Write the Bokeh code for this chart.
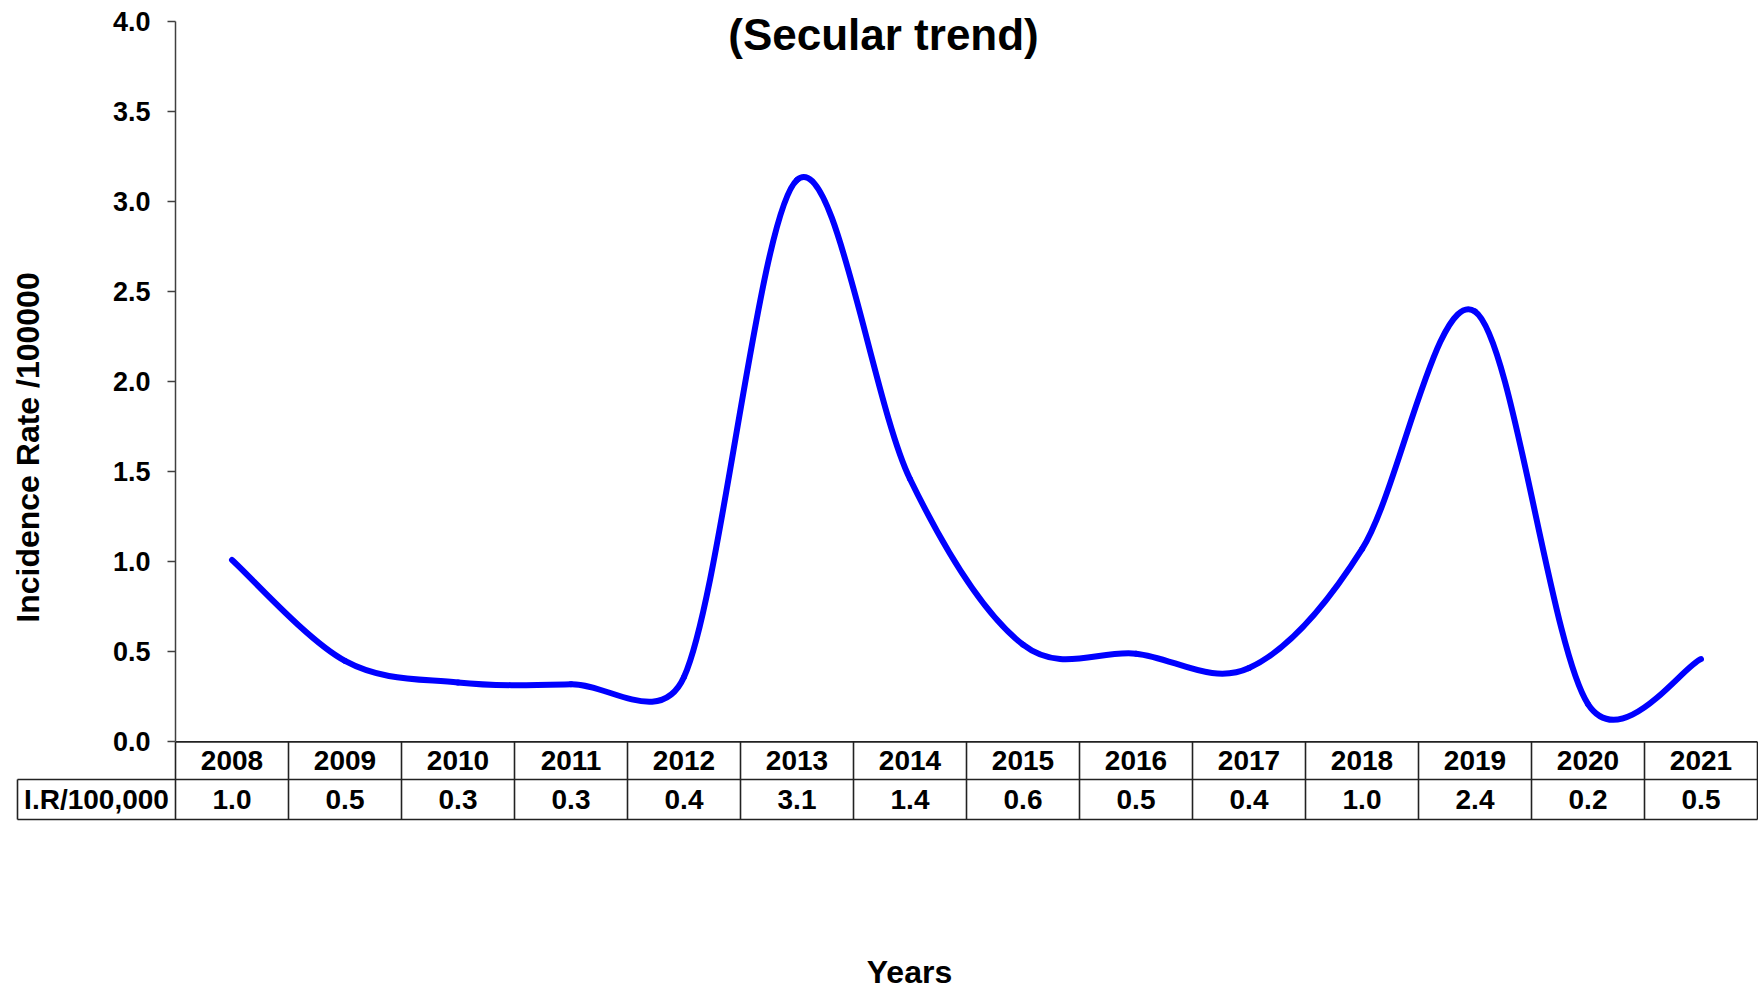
import numpy as np
from bokeh.plotting import figure
from bokeh.models import Range1d, FixedTicker, PrintfTickFormatter, ColumnDataSource
from bokeh.core.properties import value
from bokeh.embed import file_html
from bokeh.resources import INLINE

# ---- data ----
years = [2008, 2009, 2010, 2011, 2012, 2013, 2014, 2015, 2016, 2017, 2018, 2019, 2020, 2021]
rates = [1.01, 0.45, 0.33, 0.32, 0.36, 3.12, 1.46, 0.54, 0.49, 0.41, 1.07, 2.39, 0.21, 0.46]
table_values = ["1.0", "0.5", "0.3", "0.3", "0.4", "3.1", "1.4", "0.6", "0.5", "0.4", "1.0", "2.4", "0.2", "0.5"]
y_ticks = [0.0, 0.5, 1.0, 1.5, 2.0, 2.5, 3.0, 3.5, 4.0]
title_text = "(Secular trend)"
y_title = "Incidence Rate /100000"
x_title = "Years"
row_label = "I.R/100,000"

FONT = "Liberation Sans"
W, H = 1758, 992
n = len(years)
# pixel geometry (canvas pixels)
AX_X = 175.0          # y-axis position
TBL_R = 1757.0        # right edge of table
Y0_PIX = 741.4        # pixel row of value 0
px_x = (TBL_R - AX_X) / n
px_y = 180.1
x_start = -AX_X / px_x
x_end = x_start + W / px_x
y_end = Y0_PIX / px_y
y_start = y_end - H / px_y


def dx(pix):  # canvas x pixel -> data x
    return (pix - AX_X) / px_x


def dy(pix):  # canvas y pixel -> data y
    return (Y0_PIX - pix) / px_y


p = figure(width=W, height=H, x_range=Range1d(x_start, x_end), y_range=Range1d(y_start, y_end),
           output_backend="svg", toolbar_location=None, x_axis_location=None,
           min_border_left=0, min_border_right=0, min_border_top=0, min_border_bottom=0)
p.outline_line_color = None
p.grid.visible = False
p.background_fill_color = "white"
p.border_fill_color = "white"

ax = p.yaxis[0]
ax.fixed_location = 0
ax.ticker = FixedTicker(ticks=y_ticks)
ax.formatter = PrintfTickFormatter(format="%.1f")
ax.bounds = (0, y_ticks[-1])
ax.major_tick_out = 8
ax.major_tick_in = 0
ax.minor_tick_out = 0
ax.minor_tick_in = 0
ax.axis_line_color = "#404040"
ax.axis_line_width = 1.5
ax.major_tick_line_color = "#404040"
ax.major_tick_line_width = 1.5
ax.major_label_standoff = 17
ax.major_label_text_font = FONT
ax.major_label_text_font_size = "27px"
ax.major_label_text_font_style = "bold"
ax.major_label_text_color = "black"

# ---- smoothed line (Excel-like bezier between data points) ----
xs = np.arange(n) + 0.5
P = np.column_stack([xs * px_x, np.array(rates) * px_y])
seg = {k: [] for k in ["x0", "y0", "x1", "y1", "cx0", "cy0", "cx1", "cy1"]}
for i in range(n - 1):
    p0 = P[i - 1] if i > 0 else P[i]
    p1 = P[i]
    p2 = P[i + 1]
    p3 = P[i + 2] if i + 2 < n else P[i + 1]
    d12 = np.linalg.norm(p2 - p1)
    d02 = np.linalg.norm(p2 - p0)
    d13 = np.linalg.norm(p3 - p1)
    f0 = 1 / 6 if d02 / 6 < d12 / 2 else d12 / (2 * d02)
    f3 = 1 / 6 if d13 / 6 < d12 / 2 else d12 / (2 * d13)
    c1 = p1 + (p2 - p0) * f0
    c2 = p2 - (p3 - p1) * f3
    seg["x0"].append(p1[0] / px_x); seg["y0"].append(p1[1] / px_y)
    seg["x1"].append(p2[0] / px_x); seg["y1"].append(p2[1] / px_y)
    seg["cx0"].append(c1[0] / px_x); seg["cy0"].append(c1[1] / px_y)
    seg["cx1"].append(c2[0] / px_x); seg["cy1"].append(c2[1] / px_y)
p.bezier(x0="x0", y0="y0", x1="x1", y1="y1", cx0="cx0", cy0="cy0", cx1="cx1", cy1="cy1",
         source=ColumnDataSource(seg), line_color="#0000FF", line_width=6, line_cap="round")

# ---- data table under the axis ----
row_mid = dy(779)
row_bot = dy(819)
left_x = dx(17)
line_col = "#222222"
p.segment(x0=[0, left_x, left_x], y0=[0, row_mid, row_bot], x1=[n, n, n], y1=[0, row_mid, row_bot],
          line_color=line_col, line_width=1.6)
vx = list(range(n + 1))
p.segment(x0=vx, y0=[0] * len(vx), x1=vx, y1=[row_bot] * len(vx), line_color=line_col, line_width=1.6)
p.segment(x0=[left_x], y0=[row_mid], x1=[left_x], y1=[row_bot], line_color=line_col, line_width=1.6)

tsrc = ColumnDataSource(dict(x=xs, yr=[str(y) for y in years], val=table_values,
                             y1=[row_mid / 2] * n, y2=[(row_mid + row_bot) / 2] * n))
for col, ycol in (("yr", "y1"), ("val", "y2")):
    p.text(x="x", y=ycol, text=col, source=tsrc, text_font=value(FONT), text_font_size="28px",
           text_font_style="bold", text_color="black", text_align="center", text_baseline="middle")

p.text(x=[left_x / 2], y=[(row_mid + row_bot) / 2], text=[row_label], text_font=value(FONT),
       text_font_size="28px", text_font_style="bold", text_color="black",
       text_align="center", text_baseline="middle")

# ---- titles ----
p.text(x=[dx(883)], y=[dy(34)], text=[title_text], text_font=value(FONT), text_font_size="44px",
       text_font_style="bold", text_color="black", text_align="center", text_baseline="middle")
p.text(x=[dx(909)], y=[dy(971)], text=[x_title], text_font=value(FONT), text_font_size="32px",
       text_font_style="bold", text_color="black", text_align="center", text_baseline="middle")
p.text(x=[dx(27)], y=[dy(447)], text=[y_title], angle=np.pi / 2, text_font=value(FONT),
       text_font_size="32px", text_font_style="bold", text_color="black",
       text_align="center", text_baseline="middle")

open("out.html", "w").write(file_html(p, INLINE))
